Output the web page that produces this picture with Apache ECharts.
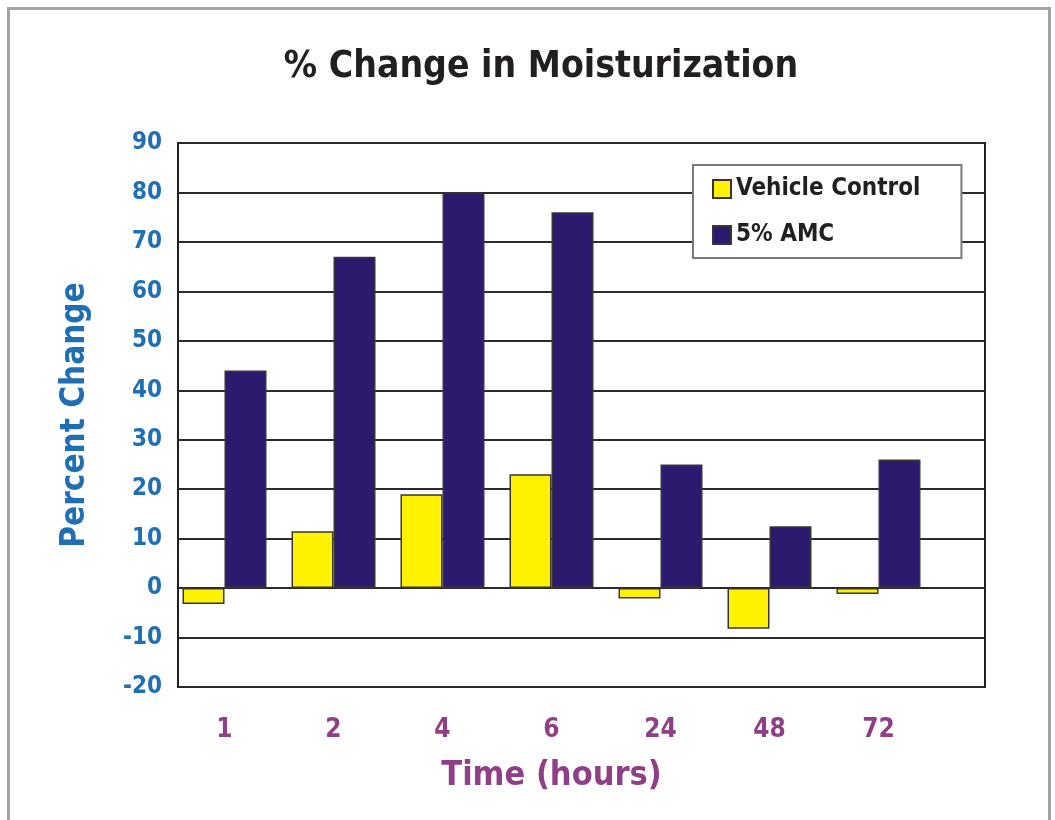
<!DOCTYPE html>
<html>
<head>
<meta charset="utf-8">
<script src="https://cdn.jsdelivr.net/npm/echarts@6/dist/echarts.min.js"></script>
<style>
html,body{margin:0;padding:0;background:#fff;}
#chart{width:1055px;height:820px;}
</style>
</head>
<body>
<div id="chart"></div>
<script>
const categories = ['1', '2', '4', '6', '24', '48', '72'];
const vehicleControl = [-3.2, 11.5, 19, 23, -2.1, -8.2, -1.2];
const amc5 = [44, 67, 80, 76, 25, 12.5, 26];
const yMin = -20, yMax = 90, yStep = 10;

const FONT = '"Liberation Sans Narrow", "DejaVu Sans Condensed", "Liberation Sans", sans-serif';
const chart = echarts.init(document.getElementById('chart'));
chart.setOption({
  backgroundColor: '#ffffff',
  animation: false,
  title: {
    text: '% Change in Moisturization',
    left: 536, top: 44, textAlign: 'center',
    textStyle: { fontFamily: FONT, fontSize: 37, fontWeight: 'bold', color: '#231f20' }
  },
  legend: {
    orient: 'vertical',
    left: 693, top: 165,
    icon: 'rect',
    backgroundColor: '#fff', borderColor: '#7a7a7a', borderWidth: 2,
    padding: [12, 41, 11, 19],
    itemWidth: 18, itemHeight: 18, itemGap: 22,
    textStyle: { fontFamily: FONT, fontSize: 24, fontWeight: 'bold', color: '#231f20' },
    data: ['Vehicle Control', '5% AMC']
  },
  graphic: [{
    type: 'rect', silent: true,
    shape: { x: 8.5, y: 8.5, width: 1041, height: 830 },
    style: { fill: 'none', stroke: '#a3a3a3', lineWidth: 3 }
  }],
  grid: [
    { left: 178, top: 143, width: 807, height: 544, show: true, borderColor: '#231f20', borderWidth: 2, backgroundColor: 'transparent' },
    { left: 170, top: 143, width: 763, height: 544 }
  ],
  xAxis: [
    { type: 'category', gridIndex: 0, data: categories, show: false },
    {
      type: 'category', gridIndex: 1, data: categories,
      axisLine: { show: false }, axisTick: { show: false },
      axisLabel: { margin: 30, fontFamily: FONT, fontSize: 26, fontWeight: 'bold', color: '#8e3f85' },
      name: 'Time (hours)', nameLocation: 'middle', nameGap: 72,
      nameTextStyle: { fontFamily: FONT, fontSize: 34, fontWeight: 'bold', color: '#8e3f85' }
    }
  ],
  yAxis: [
    {
      type: 'value', gridIndex: 0, min: yMin, max: yMax, interval: yStep,
      axisLine: { show: true, lineStyle: { color: '#231f20', width: 2 } },
      axisTick: { show: false },
      splitLine: { show: true, lineStyle: { color: '#2e2a2a', width: 2 } },
      axisLabel: { margin: 16, fontFamily: FONT, fontSize: 24, fontWeight: 'bold', color: '#1f6fb2' },
      name: 'Percent Change', nameLocation: 'middle', nameGap: 86, nameRotate: 90,
      nameTextStyle: { fontFamily: FONT, fontSize: 33, fontWeight: 'bold', color: '#1f6fb2' }
    },
    { type: 'value', gridIndex: 1, min: yMin, max: yMax, interval: yStep, show: false, splitLine: { show: false } }
  ],
  series: [
    {
      name: 'Vehicle Control', type: 'bar', xAxisIndex: 1, yAxisIndex: 1,
      data: vehicleControl, barWidth: 42, barGap: '0%',
      itemStyle: { color: '#fff200', borderColor: '#3a3535', borderWidth: 1.5 }
    },
    {
      name: '5% AMC', type: 'bar', xAxisIndex: 1, yAxisIndex: 1,
      data: amc5, barWidth: 42, barGap: '0%',
      itemStyle: { color: '#2b1a6e', borderColor: '#3a3535', borderWidth: 1.5 }
    }
  ]
});
</script>
</body>
</html>
